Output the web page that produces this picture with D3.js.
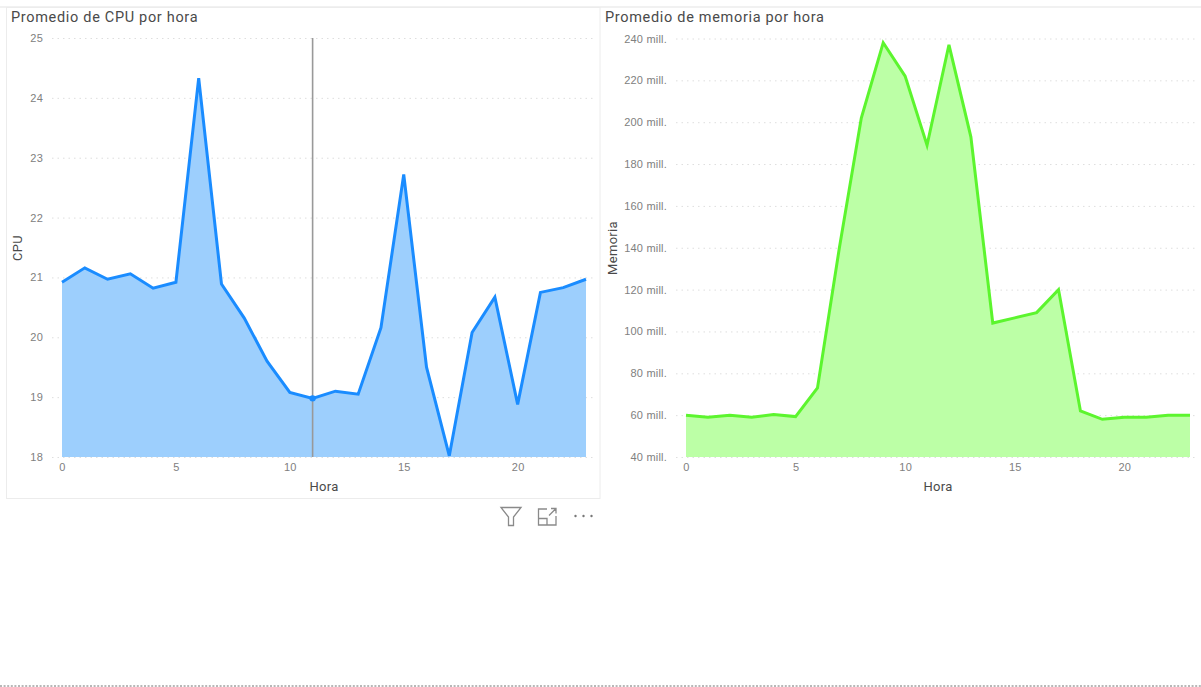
<!DOCTYPE html>
<html>
<head>
<meta charset="utf-8">
<script src="https://cdn.jsdelivr.net/npm/d3@7/dist/d3.min.js"></script>
<style>
  html, body { margin: 0; padding: 0; background: #fff; }
  svg { display: block; font-family: Roboto, "Noto Sans", sans-serif; }
  .tick-label { fill: #808080; font-size: 11px; letter-spacing: 0.2px; }
  .axis-title { fill: #4a4a4a; font-size: 13px; letter-spacing: 0.3px; }
  .chart-title { fill: #4a4a4a; font-size: 14.5px; letter-spacing: 0.68px; }
</style>
</head>
<body>
<svg id="report" width="1201" height="687"></svg>
<script>
// Hourly averages for the report's two area charts
const hours = d3.range(0, 24);
const cpuValues = [20.92, 21.16, 20.97, 21.06, 20.82, 20.92, 24.33, 20.89, 20.32, 19.6, 19.08, 18.98,
                   19.1, 19.05, 20.16, 22.72, 19.5, 18.02, 20.08, 20.67, 18.88, 20.75, 20.83, 20.97];
const memoryValues = [60, 59, 60, 59, 60.3, 59.3, 73, 140, 202, 238, 222, 189,
                      237, 193, 104, 106.5, 109, 120, 62, 58, 59, 59, 60, 60];
const hourTicks = [0, 5, 10, 15, 20];
const cpuTicks = [18, 19, 20, 21, 22, 23, 24, 25];
const memoryTicks = [40, 60, 80, 100, 120, 140, 160, 180, 200, 220, 240];
const selectedHour = 11;

const svg = d3.select("#report");

// Page frame: rule across the top, dotted page edge below, focus border round the CPU visual
svg.append("line").attr("x1", 0).attr("x2", 1201).attr("y1", 7).attr("y2", 7)
   .attr("stroke", "#e4e4e4").attr("stroke-width", 1.2);
svg.append("line").attr("x1", 0).attr("x2", 1201).attr("y1", 686).attr("y2", 686)
   .attr("stroke", "#707070").attr("stroke-dasharray", "2 1.6");
svg.append("rect").attr("x", 6.5).attr("y", 7.5).attr("width", 593.5).attr("height", 491)
   .attr("fill", "none").attr("stroke", "#ececec");

function areaChart(cfg) {
  const x = d3.scaleLinear().domain([0, 23]).range([cfg.left, cfg.right]);
  const y = d3.scaleLinear().domain(cfg.yDomain).range([cfg.bottom, cfg.top]);
  const g = svg.append("g");

  // Dotted horizontal gridlines and value labels
  const yAxis = d3.axisLeft(y).tickValues(cfg.yTicks).tickFormat(cfg.yFormat)
    .tickSize(-(cfg.gridRight - cfg.gridLeft)).tickPadding(9);
  const yG = g.append("g").attr("transform", `translate(${cfg.gridLeft},0)`).call(yAxis);
  yG.select(".domain").remove();
  yG.selectAll("line").attr("stroke", "#dedede").attr("stroke-dasharray", "1.5 4");
  yG.selectAll("text").attr("class", "tick-label").attr("style", null);

  const xAxis = d3.axisBottom(x).tickValues(hourTicks).tickFormat(d3.format("d"))
    .tickSize(0).tickPadding(6);
  const xG = g.append("g").attr("transform", `translate(0,${cfg.bottom})`).call(xAxis);
  xG.select(".domain").remove();
  xG.selectAll("text").attr("class", "tick-label");

  const area = d3.area().x((d, i) => x(hours[i])).y0(cfg.bottom).y1(d => y(d));
  const line = d3.line().x((d, i) => x(hours[i])).y(d => y(d));
  g.append("path").attr("d", area(cfg.values)).attr("fill", cfg.fill);

  if (cfg.marker !== undefined) {
    g.append("line").attr("x1", x(cfg.marker)).attr("x2", x(cfg.marker))
      .attr("y1", cfg.top).attr("y2", cfg.bottom)
      .attr("stroke", "#999").attr("stroke-width", 1.6);
  }

  g.append("path").attr("d", line(cfg.values)).attr("fill", "none")
    .attr("stroke", cfg.stroke).attr("stroke-width", 3).attr("stroke-linejoin", "miter");

  if (cfg.marker !== undefined) {
    g.append("circle").attr("cx", x(cfg.marker)).attr("cy", y(cfg.values[cfg.marker]))
      .attr("r", 3.2).attr("fill", cfg.stroke);
  }

  g.append("text").attr("class", "chart-title").attr("x", cfg.titleX).attr("y", 22).text(cfg.title);
  g.append("text").attr("class", "axis-title").attr("text-anchor", "middle")
    .attr("x", cfg.xTitleX).attr("y", 491).text("Hora");
  g.append("text").attr("class", "axis-title").attr("text-anchor", "middle")
    .attr("transform", `translate(${cfg.yTitleX},${cfg.yTitleY}) rotate(-90)`).text(cfg.yTitle);
}

areaChart({
  title: "Promedio de CPU por hora", titleX: 11,
  yTitle: "CPU", yTitleX: 22, yTitleY: 248, xTitleX: 324,
  left: 62, right: 586, gridLeft: 52, gridRight: 594, top: 38, bottom: 457,
  yDomain: [18, 25], yTicks: cpuTicks, yFormat: d3.format("d"),
  values: cpuValues, stroke: "#1a8cff", fill: "#9dcffd", marker: selectedHour
});

areaChart({
  title: "Promedio de memoria por hora", titleX: 605,
  yTitle: "Memoria", yTitleX: 617, yTitleY: 248, xTitleX: 938,
  left: 686, right: 1190, gridLeft: 676, gridRight: 1198, top: 38.5, bottom: 457,
  yDomain: [40, 240], yTicks: memoryTicks, yFormat: d => d + " mill.",
  values: memoryValues, stroke: "#5cf52e", fill: "#bcffa6"
});

// Visual header icons under the CPU chart
const icons = svg.append("g").attr("fill", "none").attr("stroke", "#8a8a8a").attr("stroke-width", 1.3);
icons.append("path").attr("d", "M501 507.5H521L513.5 517V525.5H508.5V517Z");
icons.append("path").attr("d", "M547 509H538.5V525H556V516M538.5 518.5H547V525M549 515.5L555.5 509M551 508.5H556V513.5");
svg.append("g").attr("fill", "#777").selectAll("circle").data([0, 1, 2]).join("circle")
  .attr("cx", d => 575.5 + d * 8).attr("cy", 516).attr("r", 1.2);
</script>
</body>
</html>
